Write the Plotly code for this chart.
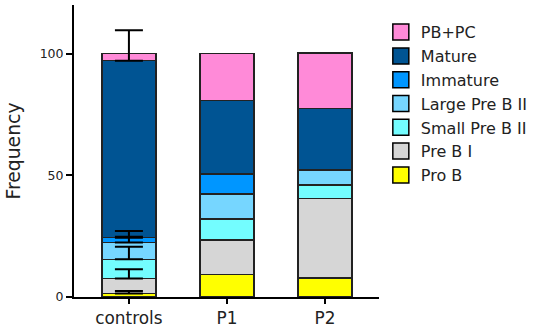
import plotly.graph_objects as go
import numpy as np

groups = ["controls", "P1", "P2"]
series = ["Pro B", "Pre B I", "Small Pre B II", "Large Pre B II", "Immature", "Mature", "PB+PC"]
colors = ["#FFFF00", "#D6D6D6", "#73FDFF", "#76D6FF", "#0096FF", "#005493", "#FF8AD8"]

pro_b = [1.4, 9.3, 7.8]
pre_b_i = [6.2, 14.2, 32.7]
small_pre_b_ii = [7.9, 8.6, 5.6]
large_pre_b_ii = [6.9, 10.3, 5.9]
immature = [2.0, 8.1, 0.2]
mature = [72.7, 30.2, 25.2]
pb_pc = [2.9, 19.3, 22.8]

# upward SD for controls only (Pro B .. Mature)
control_err = [1.1, 3.8, 5.1, 2.4, 2.7, 12.5]

values = [pro_b, pre_b_i, small_pre_b_ii, large_pre_b_ii, immature, mature, pb_pc]

FONT = "DejaVu Sans"

fig = go.Figure()
for name, vals, col in zip(series, values, colors):
    fig.add_trace(go.Bar(
        x=groups, y=vals, name=name, marker=dict(color=col, line=dict(color="#222", width=1.5)),
        width=0.55, showlegend=False))

# error bars for controls drawn above all bars
tops = np.cumsum([v[0] for v in values])[:len(control_err)]
fig.add_trace(go.Scatter(
    x=[groups[0]] * len(control_err), y=tops, mode="markers", marker=dict(size=1, color="rgba(0,0,0,0)"),
    error_y=dict(type="data", array=control_err, arrayminus=[0] * len(control_err), symmetric=False,
                 color="black", thickness=2, width=14),
    showlegend=False, hoverinfo="skip"))

# legend entries (top to bottom)
for name, col in reversed(list(zip(series, colors))):
    fig.add_trace(go.Scatter(
        x=[None], y=[None], mode="markers", name=name,
        marker=dict(symbol="square", size=16, color=col, line=dict(color="black", width=1.5))))

fig.update_layout(
    barmode="stack",
    width=538, height=333,
    margin=dict(l=74, r=157, t=5, b=36),
    plot_bgcolor="white", paper_bgcolor="white",
    font=dict(family=FONT, color="#222", size=15),
    legend=dict(x=1.006, y=0.965, xanchor="left", yanchor="top", font=dict(size=16),
                tracegroupgap=0, itemsizing="trace", traceorder="normal"),
    xaxis=dict(range=[-0.56, 2.55], showline=True, linecolor="black", linewidth=2,
               ticks="outside", ticklen=5, tickwidth=2, tickcolor="black",
               tickfont=dict(size=16.9), showgrid=False, zeroline=False),
    yaxis=dict(range=[0, 120], showline=True, linecolor="black", linewidth=2,
               ticks="outside", ticklen=6, tickwidth=2, tickcolor="black",
               tickvals=[0, 50, 100], tickfont=dict(size=12.5), showgrid=False, zeroline=False,
               title=dict(text="Frequency", font=dict(size=18.8), standoff=14)),
)

fig.write_html("out.html", config={"displayModeBar": False},
               post_script="document.body.style.margin='0';")
